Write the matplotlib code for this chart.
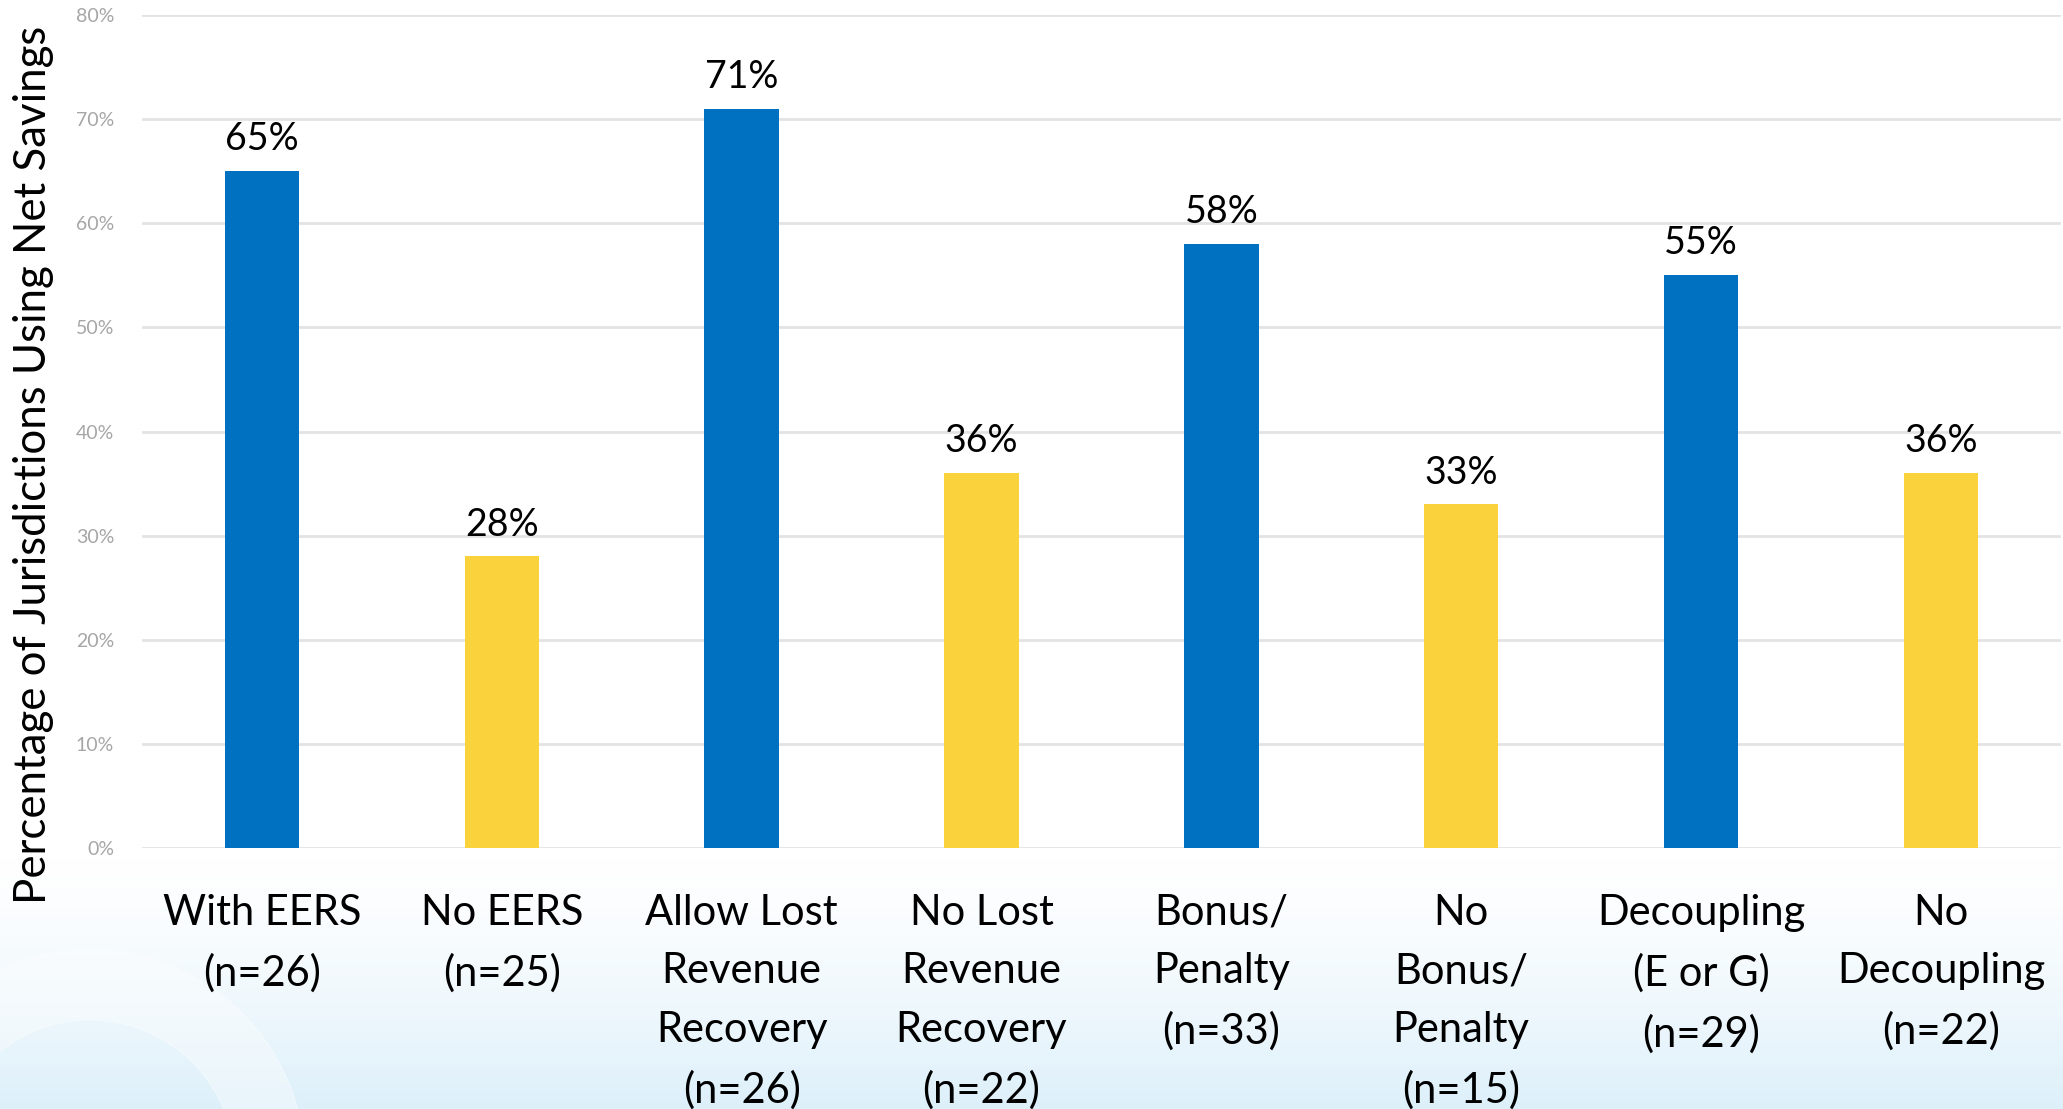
import numpy as np
import matplotlib.pyplot as plt
from matplotlib.patches import Wedge
from matplotlib.colors import LinearSegmentedColormap

plt.rcParams['font.family'] = ['Lato', 'DejaVu Sans']

# Datos
categorias = ["With EERS\n(n=26)", "No EERS\n(n=25)", "Allow Lost\nRevenue\nRecovery\n(n=26)",
              "No Lost\nRevenue\nRecovery\n(n=22)", "Bonus/\nPenalty\n(n=33)",
              "No\nBonus/\nPenalty\n(n=15)", "Decoupling\n(E or G)\n(n=29)",
              "No\nDecoupling\n(n=22)"]
valores = [65, 28, 71, 36, 58, 33, 55, 36]
colores = ["#0070C0", "#F9D23C"] * 4
yticks = [0, 10, 20, 30, 40, 50, 60, 70, 80]

fig = plt.figure(figsize=(20.63, 11.09), dpi=100)

# Fondo: degradado azul claro en la parte de abajo + arco tenue
bg = fig.add_axes([0, 0, 1, 1], zorder=-10)
t = np.linspace(0, 1, 300)
grad = (np.clip((0.23 - t) / 0.23, 0, 1) ** 1.4)[:, None]
cmap = LinearSegmentedColormap.from_list("bg", ["#FFFFFF", "#DDF0FA"])
bg.imshow(grad, aspect="auto", cmap=cmap, extent=[0, 2063, 1109, 0], origin="lower",
          vmin=0, vmax=1)
bg.add_patch(Wedge((90, 1165), 215, 180, 360, width=70, color="white", alpha=0.35))
bg.set_xlim(0, 2063)
bg.set_ylim(1109, 0)
bg.axis("off")

ax = fig.add_axes([0.0688, 0.2353, 0.9302, 0.7512])
ax.patch.set_alpha(0)
x = np.arange(len(valores))
ax.bar(x, valores, width=0.31, color=colores, zorder=3)

for xi, v in zip(x, valores):
    ax.annotate(f"{v}%", (xi, v), xytext=(0, 10), textcoords="offset points",
                ha="center", va="bottom", fontsize=27, color="black")

ax.set_xlim(-0.5, len(valores) - 0.5)
ax.set_ylim(0, 80)
ax.set_yticks(yticks)
ax.set_yticklabels([f"{y}%" for y in yticks], fontsize=14, color="#A6A6A6")
ax.grid(axis="y", color="#E3E3E3", linewidth=2, zorder=0)
ax.set_xticks(x)
ax.set_xticklabels(categorias, fontsize=30, linespacing=1.66, va="top")
ax.tick_params(axis="x", length=0, pad=33)
ax.tick_params(axis="y", length=0, pad=20)
for s in ax.spines.values():
    s.set_visible(False)
ax.set_ylabel("Percentage of Jurisdictions Using Net Savings", fontsize=31.5)
ax.yaxis.set_label_coords(-0.046, 0.46)

plt.savefig("out.png", dpi=100)
